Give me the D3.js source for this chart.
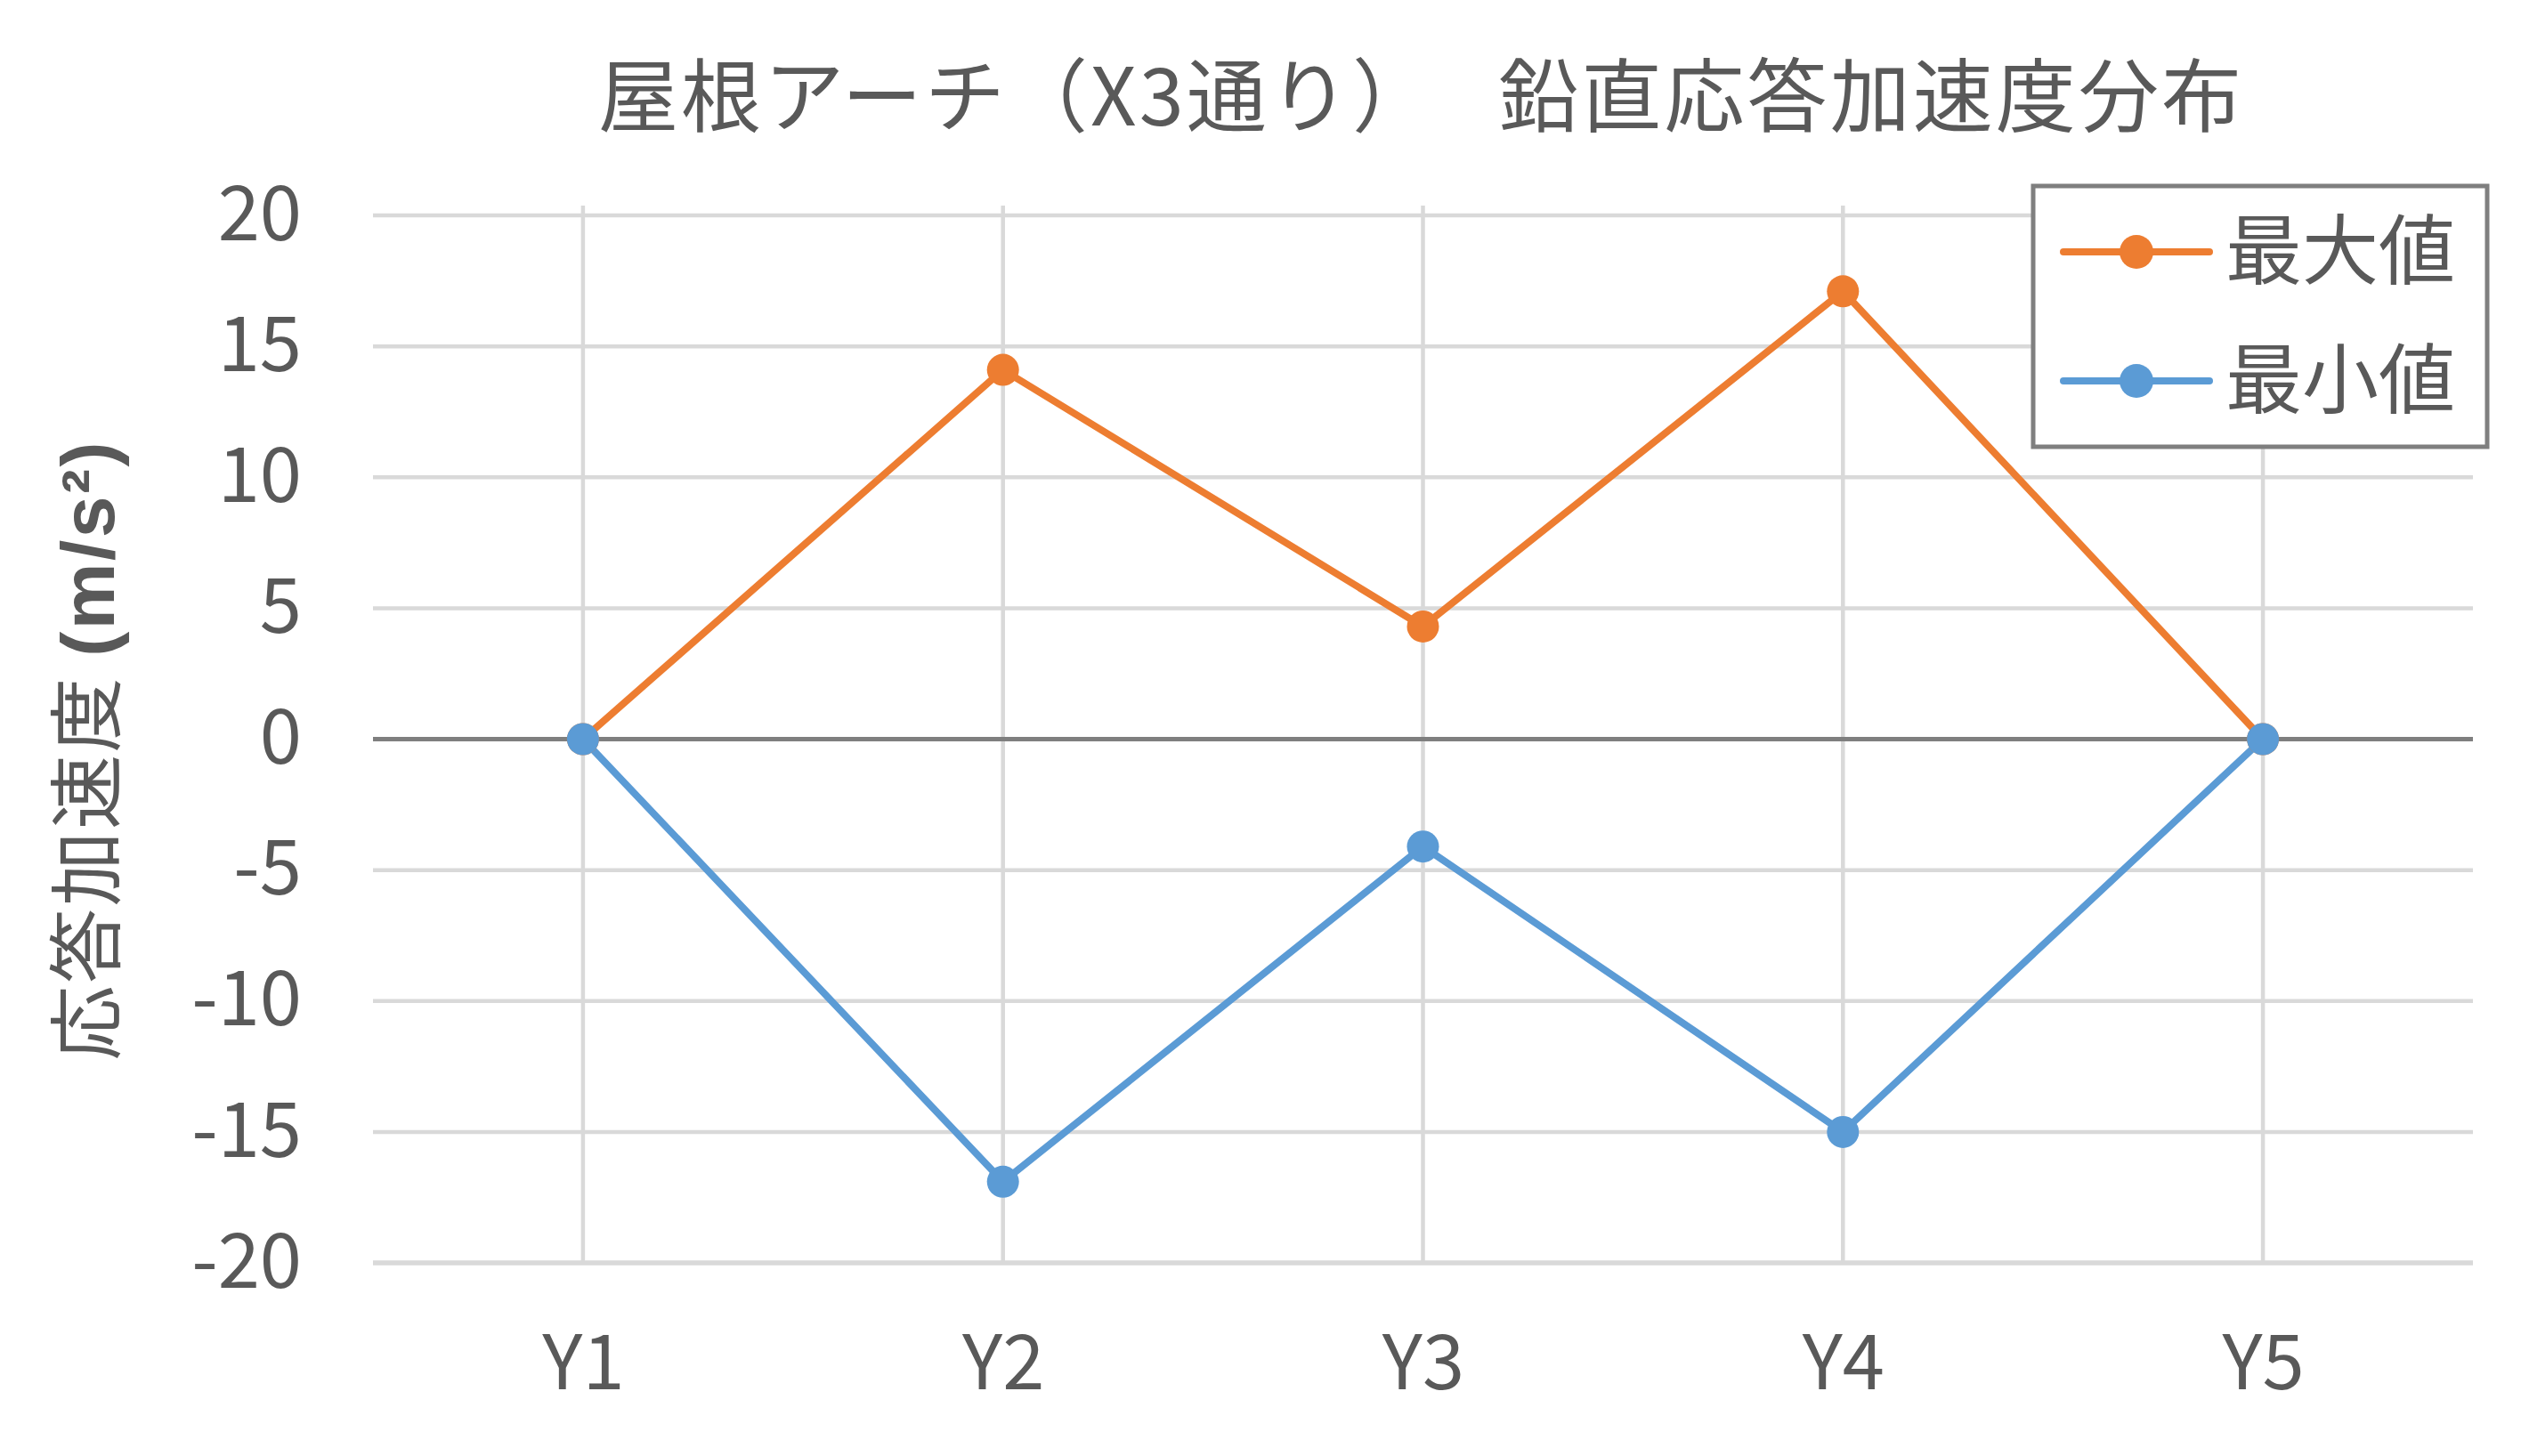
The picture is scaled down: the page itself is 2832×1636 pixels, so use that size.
<!DOCTYPE html>
<html>
<head>
<meta charset="utf-8">
<script src="https://cdn.jsdelivr.net/npm/d3@7"></script>
<style>
  body { margin: 0; background: #fff; }
  text { font-family: "Noto Sans CJK JP", "Noto Sans", sans-serif; }
</style>
</head>
<body>
<div id="svgcontainer"></div>
<script>
   var width = 2832;
   var height = 1636;

   var categories = ["Y1", "Y2", "Y3", "Y4", "Y5"];
   var maxValues = [0, 14.1, 4.3, 17.1, 0];
   var minValues = [0, -16.9, -4.1, -15.0, 0];
   var yTicks = [20, 15, 10, 5, 0, -5, -10, -15, -20];
   var seriesNames = ["最大値", "最小値"];
   var seriesColors = ["#ED7D31", "#5B9BD5"];

   var textColor = "#595959";

   var svg = d3.select("#svgcontainer")
      .append("svg")
      .attr("width", width)
      .attr("height", height);

   svg.append("rect")
      .attr("width", width)
      .attr("height", height)
      .attr("fill", "white");

   var plotLeft = 419, plotRight = 2778, plotTop = 242, plotBottom = 1419;

   var x = d3.scalePoint()
      .domain(categories)
      .range([plotLeft, plotRight])
      .padding(0.5);

   var y = d3.scaleLinear()
      .domain([-20, 20])
      .range([plotBottom, plotTop]);

   // vertical gridlines
   svg.append("g")
      .selectAll("line")
      .data(categories)
      .enter()
      .append("line")
      .attr("x1", function(d){ return x(d); })
      .attr("x2", function(d){ return x(d); })
      .attr("y1", plotTop - 11)
      .attr("y2", plotBottom)
      .attr("stroke", "#d9d9d9")
      .attr("stroke-width", 4.5);

   // horizontal gridlines
   svg.append("g")
      .selectAll("line")
      .data(yTicks.filter(function(d){ return d != 0; }))
      .enter()
      .append("line")
      .attr("x1", plotLeft)
      .attr("x2", plotRight)
      .attr("y1", function(d){ return y(d); })
      .attr("y2", function(d){ return y(d); })
      .attr("stroke", "#d9d9d9")
      .attr("stroke-width", function(d){ return d == -20 ? 5.5 : 4.5; });

   // zero line
   svg.append("line")
      .attr("x1", plotLeft)
      .attr("x2", plotRight)
      .attr("y1", y(0))
      .attr("y2", y(0))
      .attr("stroke", "#7f7f7f")
      .attr("stroke-width", 5);

   // y axis labels (plain hyphen like the original)
   var yAxis = svg.append("g")
      .attr("transform", "translate(" + plotLeft + ",0)")
      .call(d3.axisLeft(y).tickValues(yTicks).tickSize(0).tickPadding(80)
         .tickFormat(function(d){ return String(d); }));
   yAxis.select(".domain").remove();
   yAxis.selectAll("text")
      .attr("font-size", 85)
      .attr("font-family", "'Noto Sans CJK JP', 'Noto Sans', sans-serif")
      .attr("fill", textColor);

   // x axis labels
   var xAxis = svg.append("g")
      .attr("transform", "translate(0," + plotBottom + ")")
      .call(d3.axisBottom(x).tickSize(0).tickPadding(82));
   xAxis.select(".domain").remove();
   xAxis.selectAll("text")
      .attr("font-size", 85)
      .attr("font-family", "'Noto Sans CJK JP', 'Noto Sans', sans-serif")
      .attr("fill", textColor);

   // series
   var series = [maxValues, minValues];
   var line = d3.line()
      .x(function(d, i){ return x(categories[i]); })
      .y(function(d){ return y(d); });

   series.forEach(function(values, s){
      svg.append("path")
         .datum(values)
         .attr("d", line)
         .attr("fill", "none")
         .attr("stroke", seriesColors[s])
         .attr("stroke-width", 8)
         .attr("stroke-linejoin", "round")
         .attr("stroke-linecap", "round");
   });

   series.forEach(function(values, s){
      svg.append("g")
         .selectAll("circle")
         .data(values)
         .enter()
         .append("circle")
         .attr("cx", function(d, i){ return x(categories[i]); })
         .attr("cy", function(d){ return y(d); })
         .attr("r", 18)
         .attr("fill", seriesColors[s]);
   });

   // title
   svg.append("text")
      .attr("x", 672)
      .attr("y", 141)
      .attr("font-size", 90)
      .attr("fill", textColor)
      .attr("textLength", 1846)
      .attr("lengthAdjust", "spacing")
      .text("屋根アーチ（X3通り）　 鉛直応答加速度分布");

   // y axis title
   var yTitle = svg.append("text")
      .attr("transform", "translate(128,844) rotate(-90)")
      .attr("text-anchor", "middle")
      .attr("font-size", 84)
      .attr("fill", textColor)
      .attr("textLength", 695)
      .attr("lengthAdjust", "spacing");
   yTitle.append("tspan").text("応答加速度 ");
   yTitle.append("tspan").attr("font-weight", "bold").attr("font-family", "'Liberation Sans', Arial, sans-serif").text("(m/s²)");

   // legend
   var legend = svg.append("g");
   legend.append("rect")
      .attr("x", 2284)
      .attr("y", 209)
      .attr("width", 510)
      .attr("height", 293)
      .attr("fill", "white")
      .attr("stroke", "#7f7f7f")
      .attr("stroke-width", 5);

   var legendY = [283, 428];
   seriesNames.forEach(function(name, s){
      legend.append("line")
         .attr("x1", 2318)
         .attr("x2", 2482)
         .attr("y1", legendY[s])
         .attr("y2", legendY[s])
         .attr("stroke", seriesColors[s])
         .attr("stroke-width", 8)
         .attr("stroke-linecap", "round");
      legend.append("circle")
         .attr("cx", 2400)
         .attr("cy", legendY[s])
         .attr("r", 19)
         .attr("fill", seriesColors[s]);
      legend.append("text")
         .attr("x", 2500)
         .attr("y", legendY[s] + 30)
         .attr("font-size", 86)
         .attr("fill", textColor)
         .text(name);
   });
</script>
</body>
</html>
